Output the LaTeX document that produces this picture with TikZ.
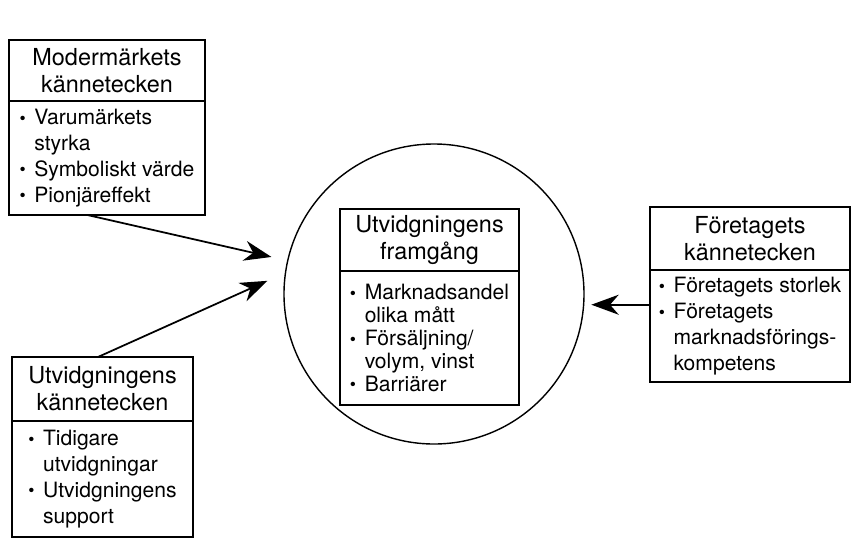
\documentclass[tikz,border=0pt]{standalone}
\usepackage{fontspec}
\setmainfont{TeX Gyre Heros}
\usetikzlibrary{positioning,arrows.meta,calc}
\newcommand{\blt}{\makebox[0.7em][l]{\raisebox{0.3pt}{\fontsize{15}{15}\selectfont\textbullet}}}
\newcommand{\ind}{\hspace*{0.7em}}
\tikzset{
  headbox/.style={draw, line width=1.5pt, outer sep=0pt, inner sep=0pt, align=center, font=\fontsize{20}{23}\selectfont},
  listbox/.style={draw, line width=1.5pt, outer sep=0pt, inner sep=0pt, align=left, font=\fontsize{18}{22}\selectfont},
  arr/.style={line width=1.5pt, -{Stealth[length=0.82cm,width=0.6cm,inset=0.26cm]}}
}
\begin{document}
\begin{tikzpicture}
\useasboundingbox (0,0) rectangle (25.59,-16.44);
% Cirkel
\node[draw, circle, line width=1.2pt, minimum size=9cm, inner sep=0pt] (circ) at (13.02,-8.82) {};
% Modermärkets kännetecken
\node[headbox, minimum width=5.88cm, minimum height=1.83cm] (modhead) at (3.21,-2.115) {Modermärkets\\kännetecken};
\node[listbox, minimum width=5.88cm, minimum height=3.42cm, below=0pt of modhead] (modlist)
  {\blt Varumärkets\\\ind styrka\\\blt Symboliskt värde\\\blt Pionjäreffekt};
% Utvidgningens kännetecken
\node[headbox, minimum width=5.43cm, minimum height=1.92cm] (utvhead) at (3.075,-11.67) {Utvidgningens\\kännetecken};
\node[listbox, minimum width=5.43cm, minimum height=3.48cm, below=0pt of utvhead] (utvlist)
  {\blt Tidigare\\\ind utvidgningar\\\blt Utvidgningens\\\ind support};
% Utvidgningens framgång
\node[headbox, minimum width=5.37cm, minimum height=1.86cm] (framhead) at (12.885,-7.2) {Utvidgningens\\framgång};
\node[listbox, minimum width=5.37cm, minimum height=4.02cm, below=0pt of framhead, font=\fontsize{18}{19.5}\selectfont] (framlist)
  {\blt Marknadsandel\\\ind olika mått\\\blt Försäljning/\\\ind volym, vinst\\\blt Barriärer};
% Företagets kännetecken
\node[headbox, minimum width=6cm, minimum height=1.89cm] (forhead) at (22.5,-7.155) {Företagets\\kännetecken};
\node[listbox, minimum width=6cm, minimum height=3.36cm, below=0pt of forhead] (forlist)
  {\blt Företagets storlek\\\blt Företagets\\\ind marknadsförings-\\\ind kompetens};
% Pilar
\draw[arr, shorten >=0.48cm] ($(modlist.south west)!0.4!(modlist.south east)$) -- (circ);
\draw[arr, shorten >=0.57cm] ($(utvhead.north west)!0.475!(utvhead.north east)$) -- (circ.172);
\coordinate (fstart) at ($(forlist.north west)!0.31!(forlist.south west)$);
\draw[arr, shorten >=0.2cm] (fstart) -- (fstart -| circ.east);
\end{tikzpicture}
\end{document}
